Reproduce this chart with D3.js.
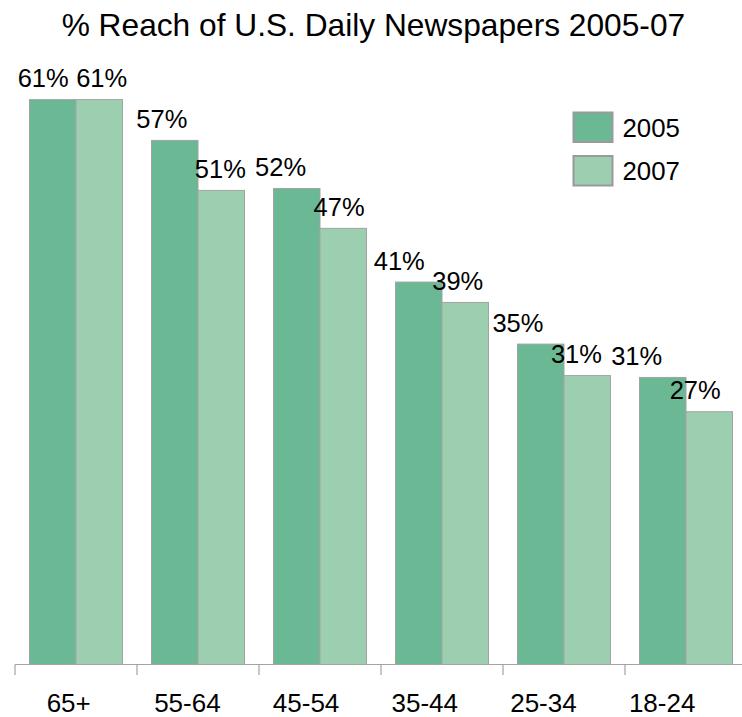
<!DOCTYPE html>
<html>
<head>
<meta charset="utf-8">
<script src="https://cdn.jsdelivr.net/npm/d3@7"></script>
<style>
  body { margin: 0; background: #fff; }
  svg { display: block; font-family: "Liberation Sans", Arial, sans-serif; }
</style>
</head>
<body>
<svg id="chart" width="742" height="717"></svg>
<script>
// data (bar heights estimated, labels as printed)
const categories = ['65+', '55-64', '45-54', '35-44', '25-34', '18-24'];
const seriesNames = ['2005', '2007'];
const reach2005 = [61.0, 56.6, 51.4, 41.3, 34.6, 31.0];
const reach2007 = [61.0, 51.2, 47.1, 39.1, 31.2, 27.3];
const labels2005 = ['61%', '57%', '52%', '41%', '35%', '31%'];
const labels2007 = ['61%', '51%', '47%', '39%', '31%', '27%'];
const title = '% Reach of U.S. Daily Newspapers 2005-07';

const colors = { '2005': '#6ab894', '2007': '#9ccfb0' };

const rows = categories.map((c, i) => ({
    cat: c,
    '2005': reach2005[i], '2007': reach2007[i],
    lab: { '2005': labels2005[i], '2007': labels2007[i] }
}));

const svg = d3.select('#chart');
const baseY = 664.5;

const x0 = d3.scaleBand().domain(categories).range([15, 747]);
const x1 = d3.scaleBand().domain(seriesNames).range([14.5, 107.5]);
// labels sit on a slightly tighter grid than the bars
const xl = d3.scaleBand().domain(categories).range([9.35, 721.5]);
const y = d3.scaleLinear().domain([0, 70]).range([baseY, baseY - 70 * 9.26]);

const labelShift = { '2005': -25.5, '2007': 33 };

// title
svg.append('text')
    .attr('x', 373.4)
    .attr('y', 36)
    .attr('text-anchor', 'middle')
    .style('font-size', '31.7px')
    .style('fill', '#000')
    .text(title);

// bars
const groups = svg.selectAll('g.grp')
    .data(rows)
    .join('g')
    .attr('class', 'grp')
    .attr('transform', d => `translate(${x0(d.cat)},0)`);

groups.selectAll('rect')
    .data(d => seriesNames.map(k => ({ key: k, value: d[k] })))
    .join('rect')
    .attr('x', d => x1(d.key))
    .attr('y', d => y(d.value))
    .attr('width', x1.bandwidth())
    .attr('height', d => baseY - y(d.value))
    .style('fill', d => colors[d.key])
    .style('stroke', '#a3a3a3')
    .style('stroke-width', 1);

// value labels
rows.forEach(r => {
    seriesNames.forEach(k => {
        svg.append('text')
            .attr('x', xl(r.cat) + xl.bandwidth() / 2 + labelShift[k])
            .attr('y', y(r[k]) - 12.5)
            .attr('text-anchor', 'middle')
            .style('font-size', '25.5px')
            .style('fill', '#000')
            .text(r.lab[k]);
    });
});

// x axis
const axisG = svg.append('g').attr('class', 'axis');
axisG.append('line')
    .attr('x1', 15).attr('x2', 742)
    .attr('y1', baseY).attr('y2', baseY)
    .style('stroke', '#a3a3a3')
    .style('stroke-width', 1.2);

axisG.selectAll('line.tick')
    .data(categories)
    .join('line')
    .attr('class', 'tick')
    .attr('x1', d => x0(d)).attr('x2', d => x0(d))
    .attr('y1', baseY).attr('y2', baseY + 10.5)
    .style('stroke', '#a3a3a3')
    .style('stroke-width', 1.2);

axisG.selectAll('text')
    .data(categories)
    .join('text')
    .attr('x', d => xl(d) + xl.bandwidth() / 2)
    .attr('y', 711.5)
    .attr('text-anchor', 'middle')
    .style('font-size', '26px')
    .style('fill', '#000')
    .text(d => d);

// legend
const legend = svg.append('g')
    .attr('transform', 'translate(573.5,112.5)');
const items = legend.selectAll('g')
    .data(seriesNames)
    .join('g')
    .attr('transform', (d, i) => `translate(0,${i * 43.5})`);
items.append('rect')
    .attr('width', 39)
    .attr('height', 29.5)
    .style('fill', d => colors[d])
    .style('stroke', '#9a9a9a')
    .style('stroke-width', 2);
items.append('text')
    .attr('x', 49)
    .attr('y', 24.2)
    .style('font-size', '25.8px')
    .style('fill', '#000')
    .text(d => d);
</script>
</body>
</html>
